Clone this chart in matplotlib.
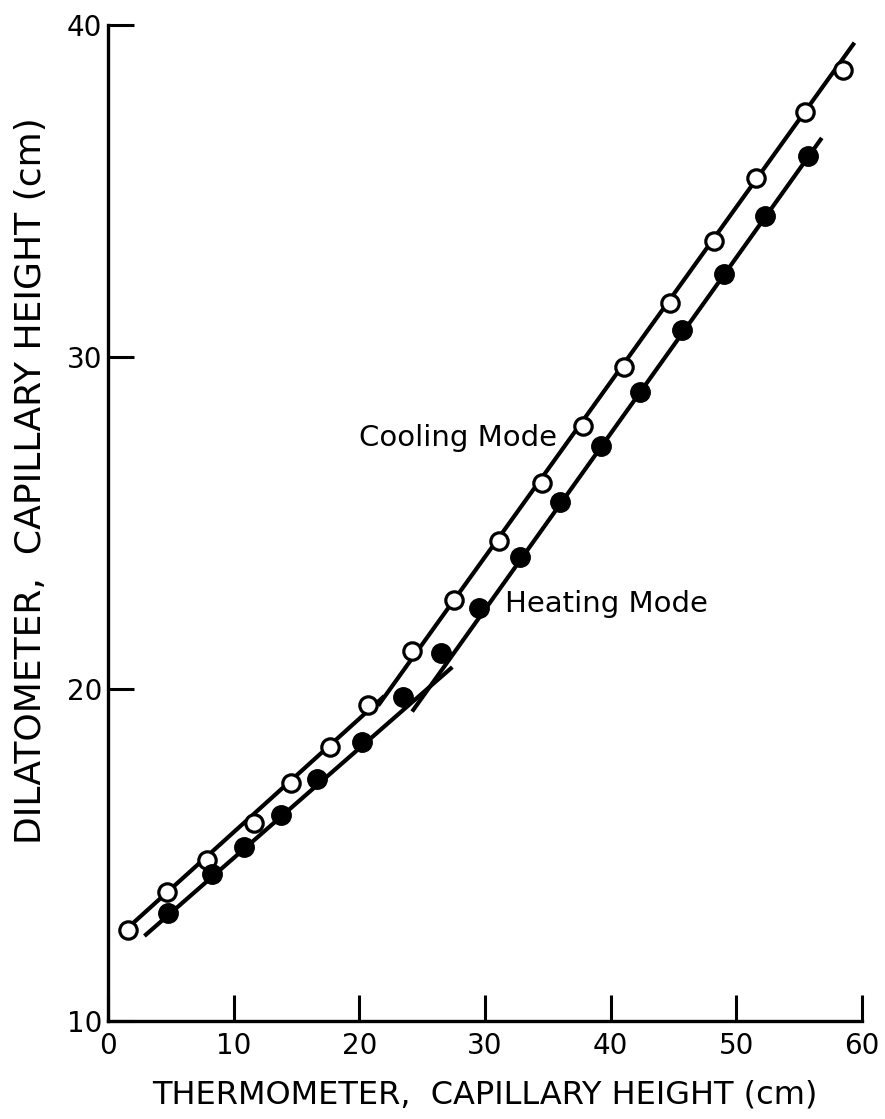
import matplotlib
matplotlib.use("Agg")
import matplotlib.pyplot as plt

# open circles: cooling mode
cool_x = [1.6, 4.7, 7.9, 11.6, 14.6, 17.7, 20.7, 24.2, 27.5, 31.1, 34.5,
          37.8, 41.1, 44.7, 48.2, 51.6, 55.5, 58.5]
cool_y = [12.74, 13.89, 14.85, 15.97, 17.18, 18.26, 19.51, 21.15, 22.68,
          24.46, 26.20, 27.93, 29.71, 31.62, 33.49, 35.38, 37.39, 38.66]

# filled circles: heating mode
heat_x = [4.75, 8.3, 10.8, 13.8, 16.6, 20.2, 23.5, 26.5, 29.5, 32.8, 36.0,
          39.2, 42.3, 45.7, 49.0, 52.3, 55.7]
heat_y = [13.24, 14.42, 15.23, 16.20, 17.28, 18.41, 19.76, 21.09, 22.45,
          23.98, 25.62, 27.32, 28.95, 30.81, 32.49, 34.26, 36.05]

# hand-drawn fit segments (two per mode)
cool_low_x, cool_low_y = [2.0, 22.0], [12.95, 19.79]
cool_up_x, cool_up_y = [21.5, 59.4], [19.50, 39.47]
heat_low_x, heat_low_y = [2.9, 27.4], [12.56, 20.66]
heat_up_x, heat_up_y = [24.2, 56.8], [19.32, 36.60]

x_ticks = [0, 10, 20, 30, 40, 50, 60]
y_ticks = [10, 20, 30, 40]

fig = plt.figure(figsize=(8.85, 11.19), dpi=100)
ax = fig.add_axes([0.122, 0.0876, 0.852, 0.890])

lw = 3.0
for xs, ys in [(cool_low_x, cool_low_y), (cool_up_x, cool_up_y),
               (heat_low_x, heat_low_y), (heat_up_x, heat_up_y)]:
    ax.plot(xs, ys, color="black", lw=lw, solid_capstyle="butt", zorder=2)

ax.plot(cool_x, cool_y, "o", ms=12.5, mfc="white", mec="black", mew=2.3,
        ls="none", zorder=3)
ax.plot(heat_x, heat_y, "o", ms=14, mfc="black", mec="black", ls="none",
        zorder=3)

ax.text(20.0, 27.55, "Cooling Mode", fontsize=21, va="center", ha="left")
ax.text(31.6, 22.55, "Heating Mode", fontsize=21, va="center", ha="left")

ax.set_xlim(0, 60)
ax.set_ylim(10, 40)
ax.set_xticks(x_ticks)
ax.set_yticks(y_ticks)
ax.tick_params(direction="in", length=19, width=2.2, labelsize=20, pad=4)
ax.tick_params(axis="x", pad=8)
for side in ["top", "right"]:
    ax.spines[side].set_visible(False)
for side in ["left", "bottom"]:
    ax.spines[side].set_linewidth(2.4)

ax.set_xlabel("THERMOMETER,  CAPILLARY HEIGHT (cm)", fontsize=23, labelpad=14)
ax.set_ylabel("DILATOMETER,  CAPILLARY HEIGHT (cm)", fontsize=26)
ax.yaxis.set_label_coords(-0.08, 0.543)

fig.savefig("out.png", dpi=100)
